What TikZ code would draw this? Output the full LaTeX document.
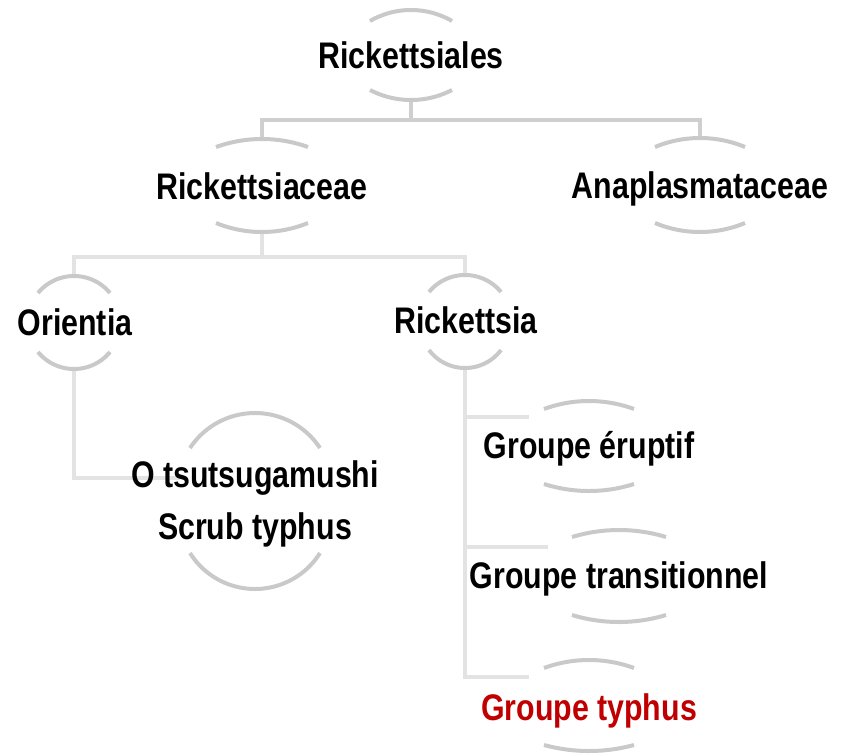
\documentclass[tikz,border=0pt]{standalone}
\usepackage{fontspec}
\setmainfont[FakeStretch=0.82]{Liberation Sans}
\definecolor{arcgray}{HTML}{C9C9C9}
\definecolor{topconn}{HTML}{CFCFCF}
\definecolor{lowconn}{HTML}{E3E3E3}
\definecolor{redtxt}{HTML}{C00000}
% #1 cx, #2 half width, #3 top ends y, #4 top apex y, #5 bottom ends y, #6 bottom apex y
\newcommand{\nodearcs}[6]{%
  \pgfmathsetmacro\nbsT{#3-#4}%
  \pgfmathsetmacro\nbrT{(#2*#2+\nbsT*\nbsT)/(2*\nbsT)}%
  \pgfmathsetmacro\nbaT{asin(#2/\nbrT)}%
  \pgfmathsetmacro\nbcT{#4+\nbrT}%
  \pgfmathsetmacro\nbaTl{-90-\nbaT}%
  \pgfmathsetmacro\nbaTr{-90+\nbaT}%
  \draw[arcline] plot[domain=\nbaTl:\nbaTr,samples=41] ({#1+\nbrT*cos(\x)},{\nbcT+\nbrT*sin(\x)});
  \pgfmathsetmacro\nbsB{#6-#5}%
  \pgfmathsetmacro\nbrB{(#2*#2+\nbsB*\nbsB)/(2*\nbsB)}%
  \pgfmathsetmacro\nbaB{asin(#2/\nbrB)}%
  \pgfmathsetmacro\nbcB{#6-\nbrB}%
  \pgfmathsetmacro\nbaBl{90-\nbaB}%
  \pgfmathsetmacro\nbaBr{90+\nbaB}%
  \draw[arcline] plot[domain=\nbaBl:\nbaBr,samples=41] ({#1+\nbrB*cos(\x)},{\nbcB+\nbrB*sin(\x)});
}
\begin{document}
\begin{tikzpicture}[x=1pt,y=-1pt,
  arcline/.style={draw=arcgray,line width=4pt},
  conn/.style={draw=lowconn,line width=4.5pt},
  tconn/.style={draw=topconn,line width=4.5pt},
  lbl/.style={font=\bfseries\fontsize{37}{52}\selectfont,anchor=base,inner sep=0pt,text=black}]
\useasboundingbox (0,0) rectangle (848,755);
% arc apex coordinates
\coordinate (rs-t) at (411,10);  \coordinate (rs-b) at (411,100);
\coordinate (rc-t) at (262,139); \coordinate (rc-b) at (262,232);
\coordinate (an-t) at (700,138); \coordinate (an-b) at (700,232);
\coordinate (or-t) at (74,276);  \coordinate (or-b) at (74,369);
\coordinate (ri-t) at (465,275); \coordinate (ri-b) at (465,368);
\coordinate (ot-w) at (180,478);
\coordinate (ge-w) at (529,417);
\coordinate (gt-w) at (548,547);
\coordinate (gy-w) at (529,677);
% connectors
\draw[tconn] (rs-b) -- ++(0,20) -| (rc-t);
\draw[tconn] (rs-b) -- ++(0,20) -| (an-t);
\draw[conn] (rc-b) -- ++(0,25) -| (or-t);
\draw[conn] (rc-b) -- ++(0,25) -| (ri-t);
\draw[conn] (or-b) |- (ot-w);
\draw[conn] (ri-b) |- (ge-w);
\draw[conn] (ri-b) |- (gt-w);
\draw[conn] (ri-b) |- (gy-w);
% arcs
\nodearcs{411}{41}{21}{10}{90}{100}
\nodearcs{262}{46}{147}{139}{223}{232}
\nodearcs{700}{45}{147}{138}{223}{232}
\nodearcs{74}{36}{293}{276}{352}{369}
\nodearcs{465}{36}{292}{275}{350}{368}
\nodearcs{255}{65}{448}{413}{553}{589}
\nodearcs{589}{45}{409}{401}{484}{491}
\nodearcs{619}{47}{537}{530}{615}{622}
\nodearcs{589}{45}{668}{660}{745}{751}
% labels
\node[lbl] (rs) at (411,68) {Rickettsiales};
\node[lbl] (rc) at (262,199) {Rickettsiaceae};
\node[lbl] (an) at (700,198) {Anaplasmataceae};
\node[lbl] (or) at (75,335) {Orientia};
\node[lbl] (ri) at (466,333) {Rickettsia};
\node[lbl] (ot) at (255,487) {\begin{tabular}[t]{@{}c@{}}O tsutsugamushi\\Scrub typhus\end{tabular}};
\node[lbl] (ge) at (589,458) {Groupe éruptif};
\node[lbl] (gt) at (619,588) {Groupe transitionnel};
\node[lbl,text=redtxt] (gy) at (589,720) {Groupe typhus};
\end{tikzpicture}
\end{document}
